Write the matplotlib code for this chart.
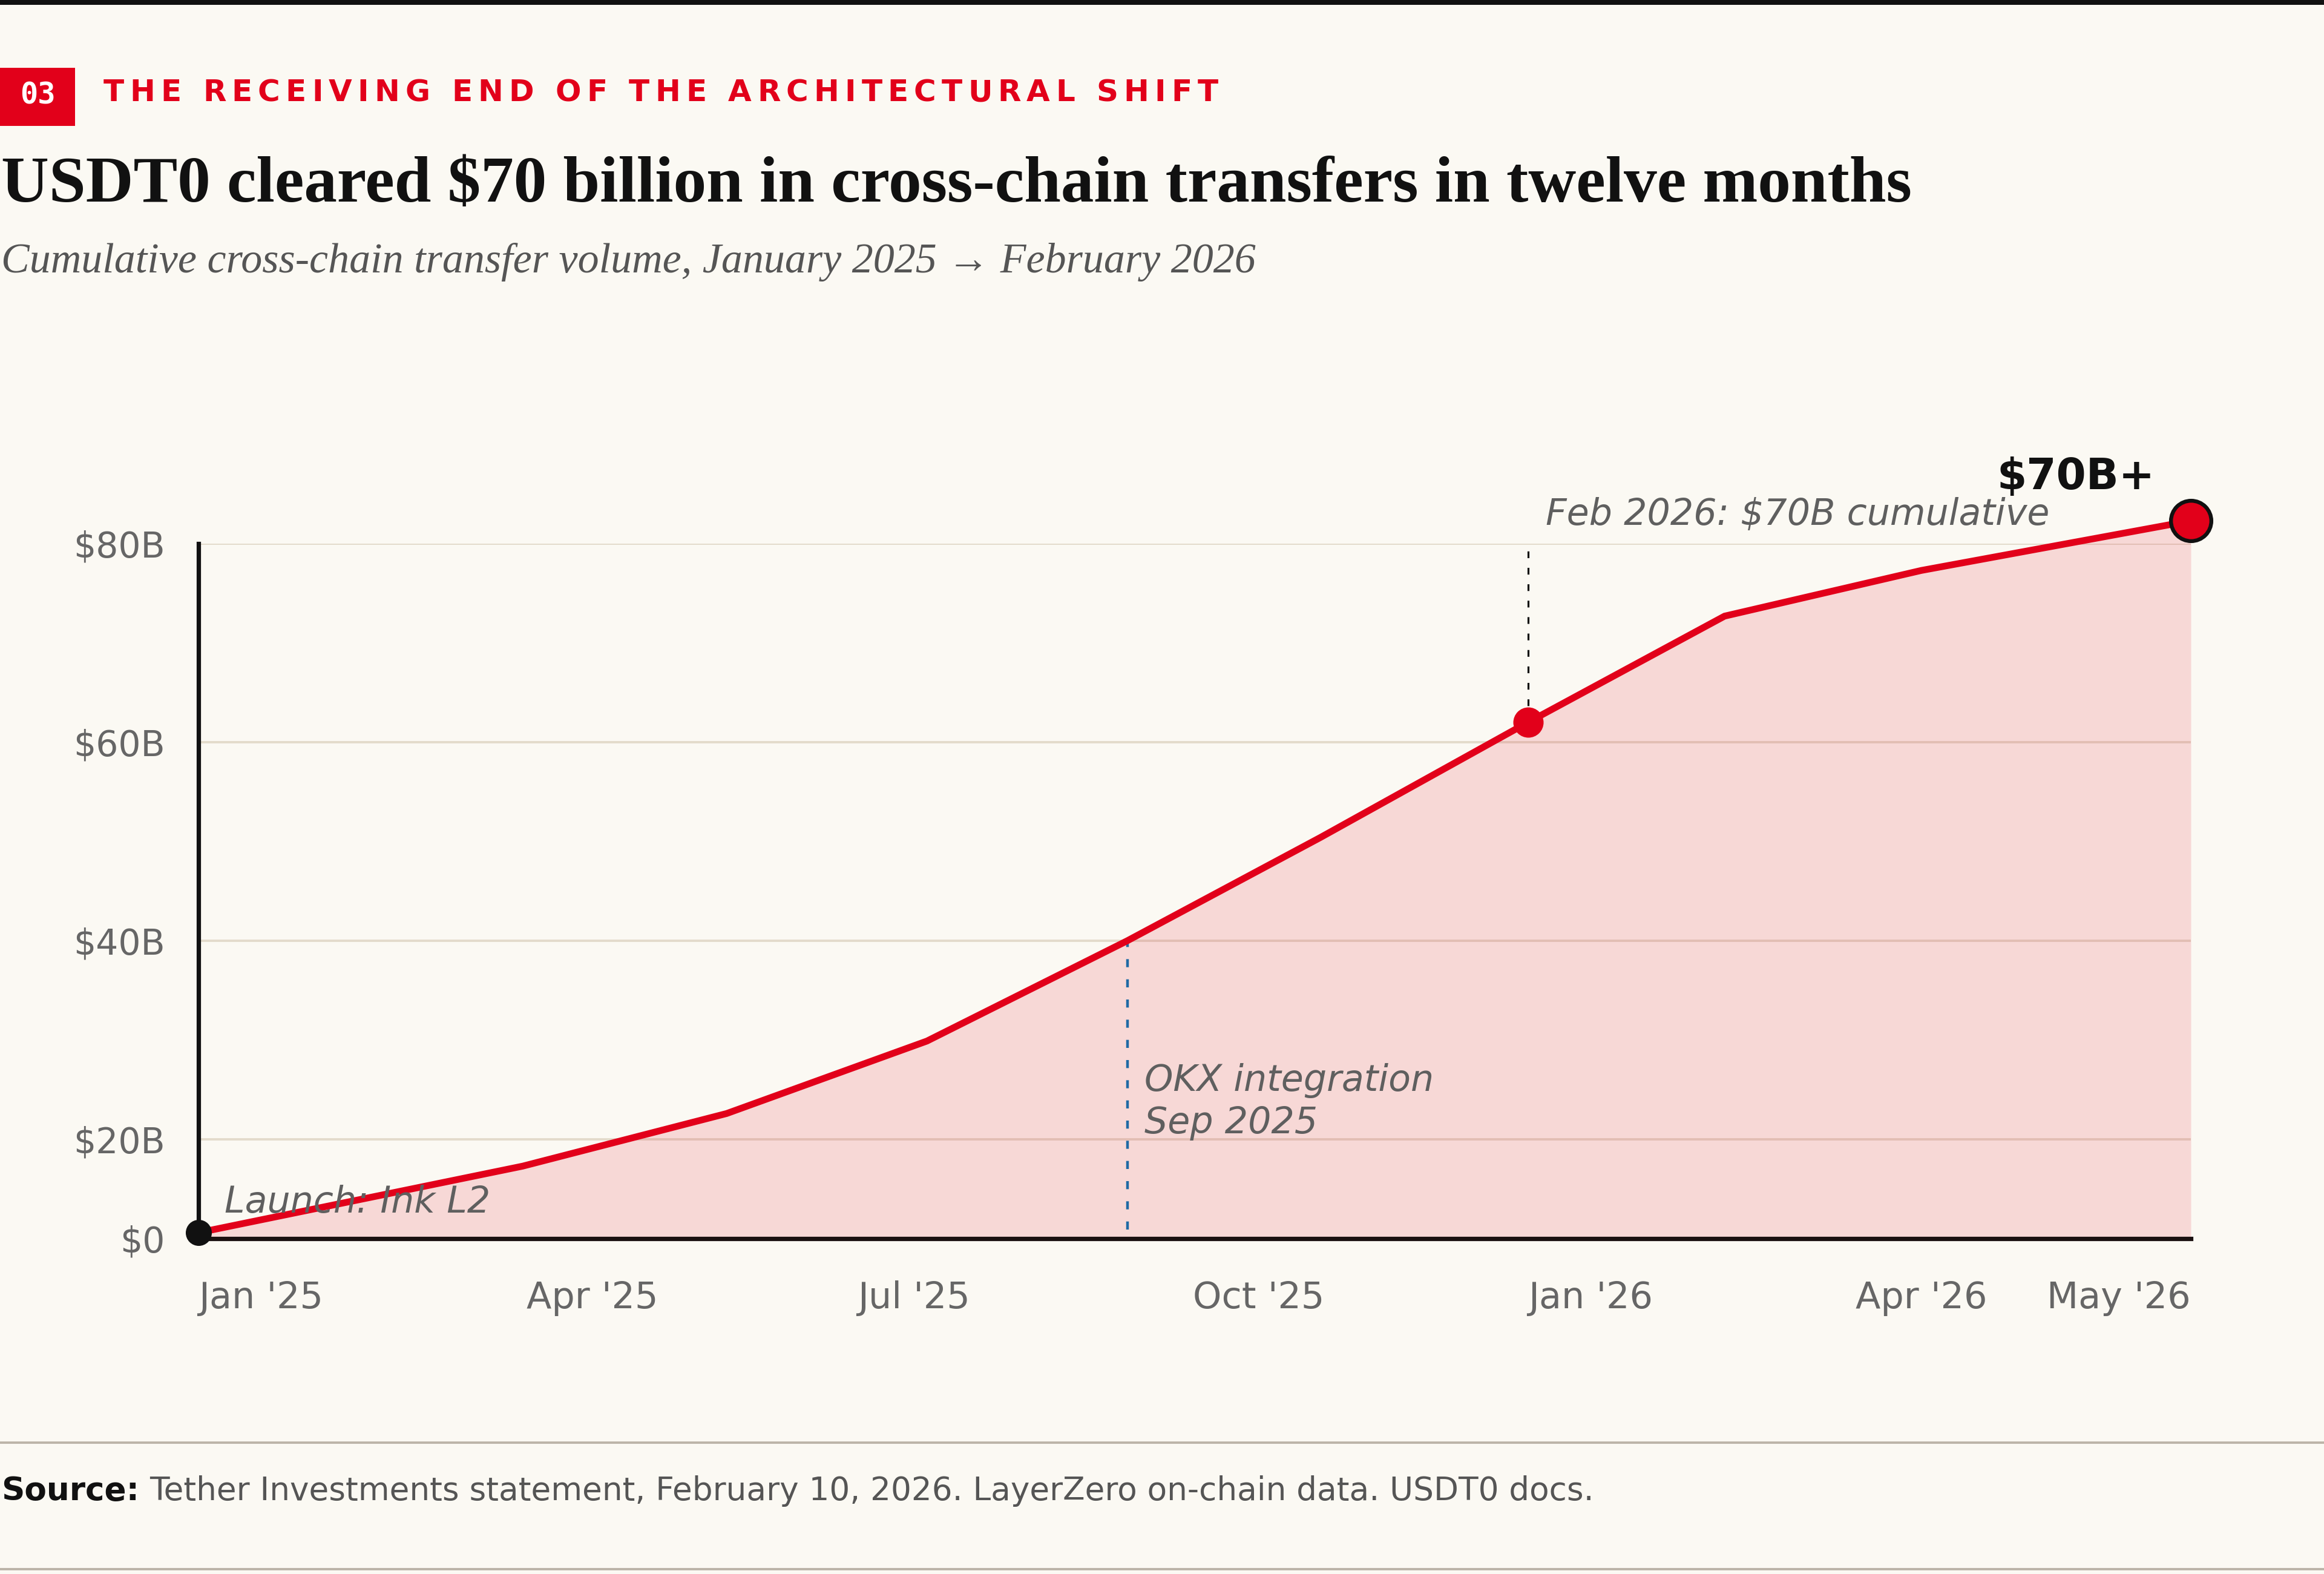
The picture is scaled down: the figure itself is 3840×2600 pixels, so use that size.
import matplotlib
matplotlib.use("Agg")
import matplotlib.pyplot as plt
import matplotlib.dates as mdates
import numpy as np
from matplotlib.patches import Rectangle
from matplotlib.lines import Line2D

# ---------------- data ----------------
dates = ["2025-01-01", "2025-03-31", "2025-05-26", "2025-07-20", "2025-09-13",
         "2025-11-05", "2026-01-01", "2026-02-24", "2026-04-19", "2026-07-02"]
volume_b = [10.6, 17.3, 22.6, 29.9, 40.0, 50.4, 62.0, 72.7, 77.3, 82.3]

y_ticks = [10, 20, 40, 60, 80]
y_tick_labels = ["$0", "$20B", "$40B", "$60B", "$80B"]

x_tick_dates = ["2025-01-01", "2025-04-01", "2025-07-01", "2025-10-01",
                "2026-01-01", "2026-04-01", "2026-07-02"]
x_tick_labels = ["Jan '25", "Apr '25", "Jul '25", "Oct '25", "Jan '26", "Apr '26", "May '26"]

okx_date = "2025-09-13"
okx_value = 40.0
okx_bottom = 10.9
feb_date = "2026-01-01"
feb_value = 62.0
feb_line_top = 79.3

kicker_num = "03"
kicker = "THE RECEIVING END OF THE ARCHITECTURAL SHIFT"
title = "USDT0 cleared $70 billion in cross-chain transfers in twelve months"
subtitle = "Cumulative cross-chain transfer volume, January 2025 \u2192 February 2026"
source_bold = "Source:"
source_text = "Tether Investments statement, February 10, 2026. LayerZero on-chain data. USDT0 docs."

# ---------------- style ----------------
BG = "#fbf9f3"
RED = "#e2001a"
GRID = "#e3dbcb"
TICK = "#666666"
ANN = "#5f5f5f"
W, H = 3840, 2600
DPI = 200

x = np.array([np.datetime64(d) for d in dates]).astype("datetime64[D]").astype(object)
xd = mdates.date2num(x)
y = np.array(volume_b)

fig = plt.figure(figsize=(W / DPI, H / DPI), dpi=DPI, facecolor=BG)
renderer = fig.canvas.get_renderer()

def fx(px):
    return px / W

def fy(py):
    return 1 - py / H

ax = fig.add_axes([fx(328), fy(2046), fx(3620) - fx(328), fy(898) - fy(2046)])
ax.set_facecolor(BG)
ax.set_xlim(xd[0], xd[-1])
ax.set_ylim(y_ticks[0], y_ticks[-1])

# grid
ax.set_yticks(y_ticks)
ax.set_yticklabels(y_tick_labels)
ax.yaxis.grid(True, color=GRID, lw=1.4, zorder=0)
ax.set_axisbelow(True)

xt = mdates.date2num(np.array([np.datetime64(d) for d in x_tick_dates]).astype("datetime64[D]").astype(object))
ax.set_xticks(xt)
ax.set_xticklabels(x_tick_labels)
ax.tick_params(axis="both", length=0, labelsize=21, labelcolor=TICK)
ax.tick_params(axis="x", labelsize=21.8, pad=25)
ax.tick_params(axis="y", pad=20)
xl = ax.get_xticklabels()
for i, lbl in enumerate(xl):
    lbl.set_ha("left" if i < len(xl) - 1 else "right")

for s in ["top", "right"]:
    ax.spines[s].set_visible(False)
ax.spines["left"].set_linewidth(2.6)
ax.spines["bottom"].set_linewidth(2.6)
ax.spines["left"].set_color("#111111")
ax.spines["bottom"].set_color("#1a1010")
ax.spines["bottom"].set_zorder(3)

# area + line
ax.fill_between(xd, y, y_ticks[0], color=RED, alpha=0.13, lw=0, clip_on=False, zorder=2)
ax.plot(xd, y, color=RED, lw=4.0, solid_joinstyle="miter", clip_on=False, zorder=4)

# event lines
okx_x = mdates.date2num(np.datetime64(okx_date).astype(object))
feb_x = mdates.date2num(np.datetime64(feb_date).astype(object))
ax.plot([okx_x, okx_x], [okx_bottom, okx_value], color="#1f6aa5", lw=1.6,
        linestyle=(0, (3.0, 4.5)), zorder=3, clip_on=False)
ax.plot([feb_x, feb_x], [feb_value, feb_line_top], color="#111111", lw=1.15,
        linestyle=(0, (3.5, 5)), zorder=3, clip_on=False)

# markers
ax.plot([xd[0]], [y[0]], "o", color="#111111", ms=15.5, mew=0, zorder=6, clip_on=False)
ax.plot([feb_x], [feb_value], "o", color=RED, ms=18, mew=0, zorder=6, clip_on=False)
ax.plot([xd[-1]], [y[-1]], "o", color=RED, ms=24, mec="#111111", mew=2.3, zorder=6, clip_on=False)

# annotations
ann = dict(textcoords="offset pixels", fontsize=21.7, color=ANN, style="italic",
           family="DejaVu Sans", va="baseline", ha="left", annotation_clip=False, zorder=7)
ax.annotate("Launch: Ink L2", xy=(xd[0], y[0]), xytext=(43, 33), **ann)
ax.annotate("OKX integration", xy=(okx_x, okx_value), xytext=(28, -248), **ann)
ax.annotate("Sep 2025", xy=(okx_x, okx_value), xytext=(28, -318), **ann)
ax.annotate("Feb 2026: $70B cumulative", xy=(feb_x, feb_value), xytext=(29, 326), **ann)
ax.annotate("$70B+", xy=(xd[-1], y[-1]), xytext=(-59, 52), textcoords="offset pixels",
            fontsize=25.5, fontweight="bold", color="#111111", ha="right", va="baseline",
            annotation_clip=False, zorder=7)

# ---------------- header ----------------
fig.add_artist(Rectangle((0, fy(8)), 1, fy(0) - fy(8), transform=fig.transFigure,
                         color="#111111", lw=0))
fig.add_artist(Rectangle((0, fy(208)), fx(124), fy(112) - fy(208), transform=fig.transFigure,
                         color=RED, lw=0))
fig.text(fx(62), fy(158), kicker_num, family="DejaVu Sans Mono", fontweight="bold",
         fontsize=17.5, color="white", ha="center", va="center")

# kicker with letter spacing
kfont = dict(family="DejaVu Sans", fontweight="bold", fontsize=18, color=RED)
def tw(s, **kw):
    t = fig.text(0, 0, s, **kw)
    w = t.get_window_extent(renderer).width
    t.remove()
    return w
ref = tw("HH", **kfont)
widths = []
for ch in kicker:
    widths.append(tw("H" + ch + "H", **kfont) - ref)
natural = sum(widths)
k_left, k_right = 171, 2013
track = (k_right - k_left - natural) / (len(kicker) - 1)
cx = k_left
for ch, wch in zip(kicker, widths):
    if ch != " ":
        fig.text(fx(cx), fy(167), ch, ha="left", va="baseline", **kfont)
    cx += wch + track

fig.text(fx(2), fy(333), title, family="Liberation Serif", fontweight="bold",
         fontsize=39.3, color="#111111", ha="left", va="baseline")
fig.text(fx(2), fy(450), subtitle, family="Liberation Serif", style="italic",
         fontsize=25.2, color="#555555", ha="left", va="baseline")

# ---------------- footer ----------------
fig.add_artist(Line2D([0, 1], [fy(2383), fy(2383)], transform=fig.transFigure,
                      color="#bcb4a8", lw=1.4))
fig.add_artist(Line2D([0, 1], [fy(2592), fy(2592)], transform=fig.transFigure,
                      color="#bcb4a8", lw=1.4))
sfs = 19.2
sb = fig.text(fx(2), fy(2478), source_bold, family="DejaVu Sans", fontweight="bold",
              fontsize=sfs, color="#111111", ha="left", va="baseline")
bw = sb.get_window_extent(renderer).width
sp = tw("a a", family="DejaVu Sans", fontsize=sfs) - tw("aa", family="DejaVu Sans", fontsize=sfs)
fig.text(fx(2 + bw + sp), fy(2478), source_text, family="DejaVu Sans",
         fontsize=sfs, color="#555555", ha="left", va="baseline")

fig.savefig("out.png", dpi=DPI, facecolor=BG)
